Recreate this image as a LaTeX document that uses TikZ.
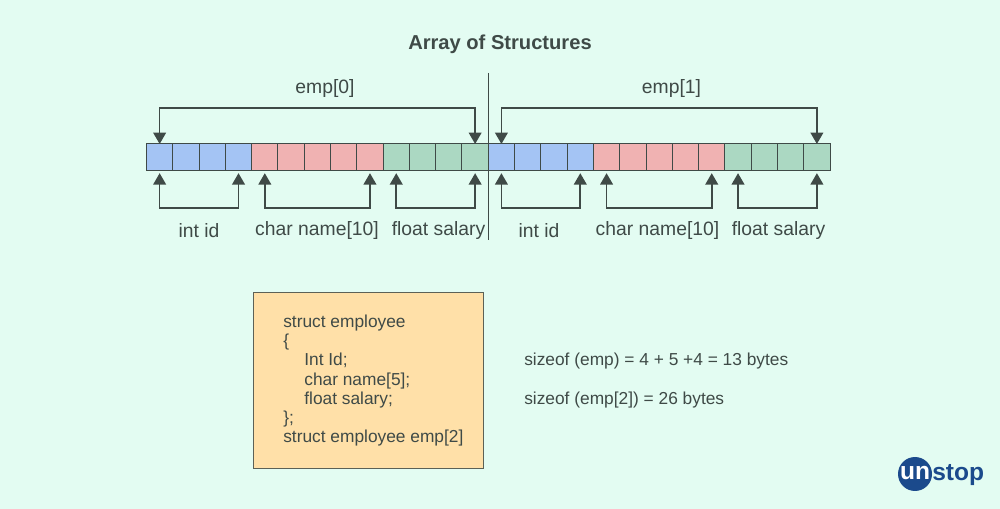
\documentclass[tikz,border=0pt]{standalone}
\usepackage{fontspec}
\setmainfont{Liberation Sans}
\usetikzlibrary{arrows.meta,calc}
\definecolor{bgc}{HTML}{E3FCF2}
\definecolor{bluec}{HTML}{A4C4F4}
\definecolor{redc}{HTML}{F0B2B2}
\definecolor{greenc}{HTML}{ABD8C2}
\definecolor{inkc}{HTML}{3F4A47}
\definecolor{boxc}{HTML}{FFE0A8}
\definecolor{logoc}{HTML}{1B4A8C}
\tikzset{
  x=0.75pt,y=-0.75pt,
  cellbox/.style={draw=inkc,line width=0.75pt,minimum width=19.72pt,minimum height=19.9pt,inner sep=0,outer sep=0,anchor=north west},
  brace/.style={draw=inkc,line width=1.2pt,{Triangle[length=8.5pt,width=9.5pt]}-{Triangle[length=8.5pt,width=9.5pt]}},
  lab/.style={text=inkc,font=\fontsize{14.5pt}{17pt}\selectfont,inner sep=0},
  codetext/.style={text=inkc,font=\fontsize{13pt}{14.45pt}\selectfont,inner sep=0,align=left},
}
\begin{document}
\begin{tikzpicture}
\useasboundingbox[fill=bgc] (0,0) rectangle (1000,509);
% cells
\foreach \i in {0,...,25}{
  \pgfmathtruncatemacro{\m}{mod(\i,13)}
  \ifnum\m<4 \def\cc{bluec}\else\ifnum\m<9 \def\cc{redc}\else\def\cc{greenc}\fi\fi
  \node[cellbox,fill=\cc] (c\i) at ({146.5+26.29*\i},144) {};
}
% labels
\node[lab,font=\bfseries\fontsize{15.1pt}{18pt}\selectfont] (title) at (500,44) {Array of Structures};
\node[lab] (e0) at (325,89) {emp[0]};
\node[lab] (e1) at (671.5,89) {emp[1]};
\node[lab] (l1) at (199,231) {int id};
\node[lab] (l2) at (317,231) {char name[10]};
\node[lab] (l3) at (438.5,231) {float salary};
\node[lab] (l4) at (539,231) {int id};
\node[lab] (l5) at (657.5,231) {char name[10]};
\node[lab] (l6) at (778.5,231) {float salary};
% divider
\coordinate (dt) at (488.3,73);
\coordinate (db) at (488.3,240);
\draw[draw=inkc,line width=1.2pt] (dt) -- (db);
% connectors
\draw[brace] (c0.north) -- ++(0,-36) -| (c12.north);
\draw[brace] (c13.north) -- ++(0,-36) -| (c25.north);
\foreach \a/\b in {0/3,4/8,9/12,13/16,17/21,22/25}{
  \draw[brace,shorten <=2pt,shorten >=2pt] (c\a.south) -- ++(0,37.5) -| (c\b.south);
}
% struct box
\node[draw=inkc!85!boxc,line width=0.9pt,fill=boxc,minimum width=172.5pt,minimum height=132pt,inner sep=0,anchor=north west] (box) at (252.7,292) {};
\node[codetext,anchor=north west] (code) at (283,314.5) {struct employee\\
\{\\
\hspace*{15.8pt}Int Id;\\
\hspace*{15.8pt}char name[5];\\
\hspace*{15.8pt}float salary;\\
\};\\
struct employee emp[2]};
\node[codetext,anchor=west] (s1) at (524,361) {sizeof (emp) = 4 + 5 +4 = 13 bytes};
\node[codetext,anchor=west] (s2) at (524,400) {sizeof (emp[2]) = 26 bytes};
% logo
\node[circle,fill=logoc,minimum size=25.5pt,inner sep=0] (logo) at (915,474) {};
\node[text=white,font=\bfseries\fontsize{18.4pt}{21pt}\selectfont,inner sep=0,anchor=center] (un) at (915,473.5) {un};
\node[text=logoc,font=\bfseries\fontsize{18.4pt}{21pt}\selectfont,inner sep=0,anchor=west] (stop) at (932,475) {stop};
\end{tikzpicture}
\end{document}
